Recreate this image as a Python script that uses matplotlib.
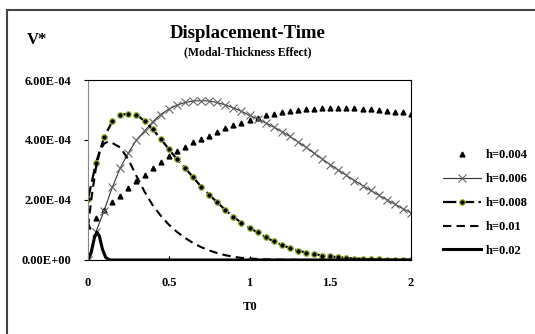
import numpy as np
import matplotlib
matplotlib.use('Agg')
import matplotlib.pyplot as plt
from matplotlib.lines import Line2D

plt.rcParams['font.family'] = ['Liberation Serif', 'DejaVu Serif']
plt.rcParams['font.weight'] = 'bold'

# time axis for the marker series (every 0.05)
t = np.round(np.arange(0, 2.0001, 0.05), 2)

# values in units of 1E-04
h004 = [1.13, 1.40, 1.68, 1.93, 2.15, 2.40, 2.62, 2.85, 3.07, 3.28,
        3.47, 3.63, 3.78, 3.92, 4.04, 4.15, 4.28, 4.40, 4.50, 4.58,
        4.68, 4.75, 4.82, 4.88, 4.93, 4.97, 5.00, 5.03, 5.05, 5.06,
        5.07, 5.07, 5.07, 5.06, 5.05, 5.03, 5.00, 4.98, 4.95, 4.92, 4.88]
h006 = [0.00, 0.95, 1.65, 2.42, 3.07, 3.57, 4.00, 4.30, 4.60, 4.85,
        5.03, 5.16, 5.25, 5.30, 5.31, 5.30, 5.25, 5.17, 5.07, 4.96,
        4.82, 4.70, 4.57, 4.43, 4.28, 4.12, 3.94, 3.76, 3.56, 3.37,
        3.18, 3.00, 2.82, 2.65, 2.48, 2.32, 2.16, 2.01, 1.86, 1.71, 1.57]
h008 = [2.03, 3.25, 4.09, 4.62, 4.83, 4.88, 4.85, 4.63, 4.36, 4.04,
        3.70, 3.36, 3.08, 2.76, 2.45, 2.18, 1.92, 1.67, 1.44, 1.24,
        1.07, 0.92, 0.76, 0.62, 0.50, 0.40, 0.31, 0.25, 0.20, 0.15,
        0.12, 0.09, 0.07, 0.05, 0.04, 0.03, 0.02, 0.015, 0.01, 0.01, 0.005]

t01 = [0, 0.025, 0.05, 0.075, 0.1, 0.125, 0.15, 0.2, 0.25, 0.3, 0.35, 0.4,
       0.45, 0.5, 0.55, 0.6, 0.65, 0.7, 0.75, 0.8, 0.85, 0.9, 0.95, 1.0,
       1.1, 1.2, 1.4, 1.7, 2.0]
h01 = [1.10, 2.20, 3.10, 3.65, 3.88, 3.95, 3.90, 3.75, 3.35, 2.80, 2.28, 1.83,
       1.48, 1.18, 0.94, 0.74, 0.57, 0.43, 0.32, 0.23, 0.16, 0.11, 0.07, 0.05,
       0.02, 0.01, 0.0, 0.0, 0.0]

t02 = [0, 0.02, 0.04, 0.055, 0.07, 0.09, 0.11, 0.13, 0.15, 1.0, 2.0]
h02 = [0.0, 0.25, 0.75, 0.93, 0.80, 0.35, 0.08, 0.01, 0.0, 0.0, 0.0]

scale = 1e-4

fig = plt.figure(figsize=(5.35, 3.34), dpi=100)
# chart frame: only top and left edges are visible in the crop
fig.add_artist(Line2D([7 / 535, 1.0], [1 - 9.5 / 334] * 2,
                      transform=fig.transFigure, color='#444444', linewidth=1.5))
fig.add_artist(Line2D([7 / 535] * 2, [0, 1 - 9.5 / 334],
                      transform=fig.transFigure, color='#444444', linewidth=1.5))
ax = fig.add_axes([88 / 535, 74 / 334, 323 / 535, 180 / 334])

ax.plot(t, np.array(h004) * scale, linestyle='none', marker='^',
        markersize=3.5, color='black', label='h=0.004')
ax.plot(t, np.array(h006) * scale, color='#333333', linewidth=0.8,
        marker='x', markersize=5.5, markeredgecolor='#666666',
        markeredgewidth=0.8, label='h=0.006')
ax.plot(t, np.array(h008) * scale, color='black', linewidth=1.6,
        linestyle=(0, (6, 2)), marker='o', markersize=4,
        markerfacecolor='black', markeredgecolor='#9ab83a',
        markeredgewidth=0.9, label='h=0.008')
ax.plot(t01, np.array(h01) * scale, color='black', linewidth=1.5,
        linestyle=(0, (4, 2.5)), label='h=0.01')
ax.plot(t02, np.array(h02) * scale, color='black', linewidth=2.2,
        label='h=0.02')

ax.set_xlim(0, 2)
ax.set_ylim(0, 6e-4)
ax.set_xticks([0, 0.5, 1, 1.5, 2])
ax.set_xticklabels(['0', '0.5', '1', '1.5', '2'])
ax.set_yticks([0, 2e-4, 4e-4, 6e-4])
ax.set_yticklabels(['0.00E+00', '2.00E-04', '4.00E-04', '6.00E-04'])
ax.tick_params(axis='x', direction='in', length=3, pad=12, labelsize=9)
ax.tick_params(axis='y', direction='out', length=3, pad=9, labelsize=9)
for lab in ax.get_xticklabels() + ax.get_yticklabels():
    lab.set_fontweight('bold')
ax.spines['left'].set_color('#888888')
for s in ['top', 'right', 'bottom']:
    ax.spines[s].set_color('black')

fig.text(248 / 535, 1 - 33 / 334, 'Displacement-Time', ha='center',
         va='center', fontsize=13.5, fontweight='bold')
fig.text(248 / 535, 1 - 52 / 334, '(Modal-Thickness Effect)', ha='center',
         va='center', fontsize=8.5, fontweight='bold')
fig.text(37 / 535, 1 - 40 / 334, 'V*', ha='center', va='center',
         fontsize=12, fontweight='bold')
fig.text(250 / 535, 1 - 307 / 334, 'T0', ha='center', va='center',
         fontsize=9, fontweight='bold')

fig.legend(loc='upper left', bbox_to_anchor=(432 / 535, 1 - 138 / 334),
           frameon=False, prop={'weight': 'bold', 'size': 9},
           handlelength=3.0, handletextpad=0.4, labelspacing=0.95)

fig.savefig('out.png', dpi=100)
